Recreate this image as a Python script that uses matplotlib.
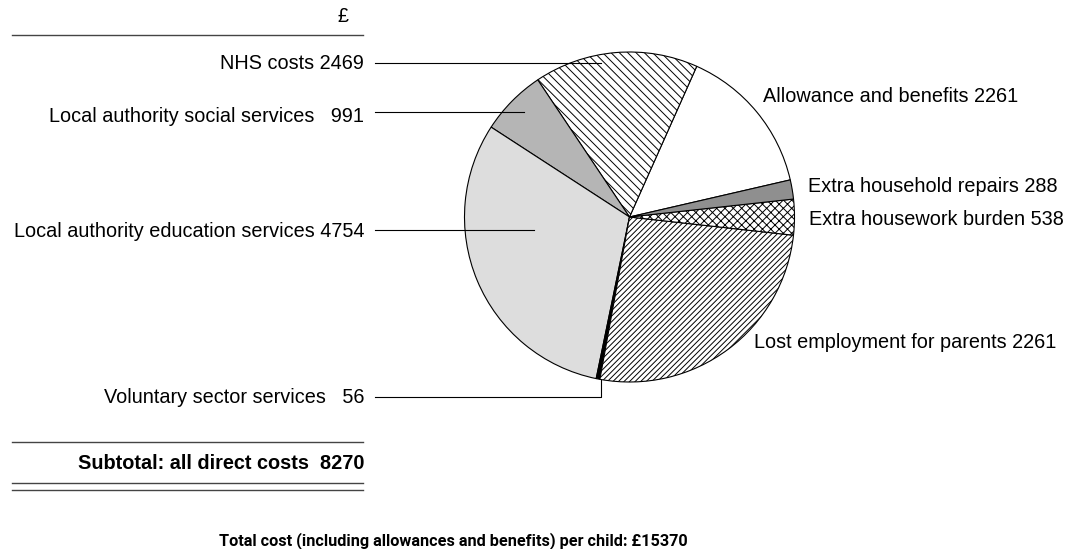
import matplotlib
matplotlib.use("Agg")
import matplotlib.pyplot as plt

plt.rcParams['font.family'] = ['Liberation Sans', 'DejaVu Sans']
plt.rcParams['hatch.linewidth'] = 0.7

W, H = 1072, 549

# Slices in counter-clockwise order starting from "Allowance and benefits"
categories = ["Allowance and benefits", "NHS costs", "Local authority social services",
              "Local authority education services", "Voluntary sector services",
              "Lost employment for parents", "Extra housework burden", "Extra household repairs"]
# slice sizes (GBP); total = 15370
values = [2261, 2469, 991, 4754, 56, 4013, 538, 288]
# numbers printed in the labels
label_numbers = ["2261", "2469", "991", "4754", "56", "2261", "538", "288"]
subtotal = "8270"
total = "15370"

colors = ["white", "white", "#b5b5b5", "#dddddd", "black", "white", "white", "#8f8f8f"]
hatches = [None, "\\\\\\\\", None, None, None, "//////", "xxxx", None]

fig = plt.figure(figsize=(W / 100, H / 100), dpi=100)
ax = fig.add_axes([0, 0, 1, 1])

def Y(y):
    return H - y

cx, cy, r = 629.5, 217, 165
wedges, _ = ax.pie(values, center=(cx, Y(cy)), radius=r, startangle=13,
                   counterclock=True, colors=colors,
                   wedgeprops=dict(edgecolor="black", linewidth=0.8))
for w, h in zip(wedges, hatches):
    if h:
        w.set_hatch(h)

ax.set_xlim(0, W)
ax.set_ylim(0, H)
ax.set_aspect("auto")
ax.axis("off")

fs = 14.3
# left labels (right aligned)
left_labels = [
    (f"{categories[1]} {label_numbers[1]}", 69),
    (f"{categories[2]}   {label_numbers[2]}", 121.5),
    (f"{categories[3]} {label_numbers[3]}", 237),
    (f"{categories[4]}   {label_numbers[4]}", 403),
]
for txt, yb in left_labels:
    ax.text(364, Y(yb), txt, ha="right", va="baseline", fontsize=fs)

# leader lines
lc = dict(color="black", linewidth=0.8)
ax.plot([375, 601], [Y(62.5), Y(62.5)], **lc)
ax.plot([375, 524], [Y(112), Y(112)], **lc)
ax.plot([375, 534], [Y(230), Y(230)], **lc)
ax.plot([375, 601, 601], [Y(397), Y(397), Y(380)], **lc)

# right labels
right_labels = [
    (f"{categories[0]} {label_numbers[0]}", 763, 101.5),
    (f"{categories[7]} {label_numbers[7]}", 808, 191.7),
    (f"{categories[6]} {label_numbers[6]}", 809, 225),
    (f"{categories[5]} {label_numbers[5]}", 754, 347.5),
]
for txt, x, yb in right_labels:
    ax.text(x, Y(yb), txt, ha="left", va="baseline", fontsize=fs)

# rules
rc = dict(color="#444444", linewidth=1.0)
for yy in [35, 441.5, 483, 490]:
    ax.plot([12, 363], [Y(yy), Y(yy)], **rc)

ax.text(343, Y(22.5), "£", ha="center", va="baseline", fontsize=fs)
ax.text(364, Y(469), f"Subtotal: all direct costs  {subtotal}", ha="right",
        va="baseline", fontsize=fs, fontweight="bold")

ax.text(453, Y(545), f"Total cost (including allowances and benefits) per child: £{total}",
        ha="center", va="baseline", fontsize=11.7, fontweight="bold",
        family=["Roboto", "Liberation Sans", "DejaVu Sans"])

fig.savefig("out.png", dpi=100)
